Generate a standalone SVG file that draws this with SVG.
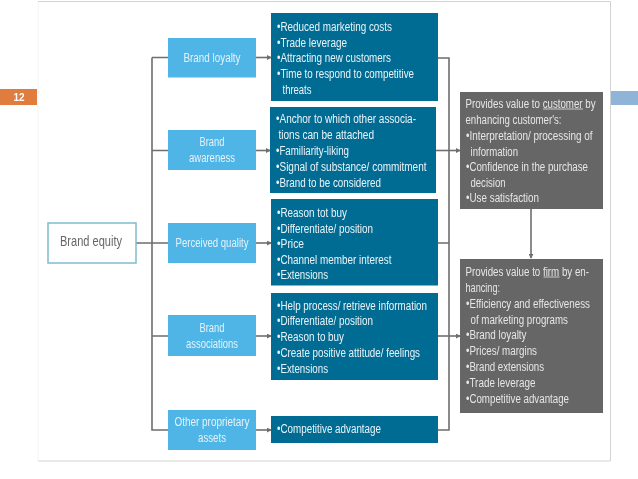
<svg xmlns="http://www.w3.org/2000/svg" width="638" height="479" viewBox="0 0 638 479">
<style>
text{font-family:"Liberation Sans",Arial,sans-serif;font-size:12.5px;fill:#e8f4f8}
.g text{fill:#e6e6e6}
.l{fill:#4fb4e6}.d{fill:#056c94}.y{fill:#666}
.lt{text-anchor:middle;fill:#e4f3fa;font-size:12.5px}
.c{fill:none;stroke:#6e6e6e;stroke-width:1.6}
.u{fill:none;stroke:#e6e6e6;stroke-width:.8}
</style>
<defs>
<marker id="a" viewBox="0 0 6 6" refX="5" refY="3" markerWidth="5" markerHeight="5" markerUnits="userSpaceOnUse" orient="auto"><path d="M0 0L6 3L0 6Z" fill="#6e6e6e"/></marker>
<filter id="b" x="-2%" y="-2%" width="104%" height="104%"><feGaussianBlur stdDeviation="0.35"/></filter>
</defs>
<rect width="638" height="479" fill="#fff"/>
<g filter="url(#b)">
<g id="slide-frame"><path d="M38 1.500H610.500V461H38" fill="none" stroke="#cfd3d6" stroke-width="1"/><path d="M38 1.500V461" fill="none" stroke="#f1f4f6" stroke-width="1"/></g>
<g id="page-number"><rect x="0" y="89" width="37" height="16" fill="#e07b3c"/><text x="19" y="101" text-anchor="middle" style="fill:#fff;font-size:10px;font-weight:bold">12</text></g>
<g id="side-accent"><rect x="611" y="91" width="27" height="14" fill="#8fb4d8"/></g>
<g id="connectors">
<path class="c" d="M136 243H168M152 57.500V430H168M152 57.500H168M152 150.500H168M152 336H168"/>
<path class="c" d="M256 57.500H271" marker-end="url(#a)"/>
<path class="c" d="M256 150.500H270" marker-end="url(#a)"/>
<path class="c" d="M256 243H271" marker-end="url(#a)"/>
<path class="c" d="M256 336H271" marker-end="url(#a)"/>
<path class="c" d="M256 430H271" marker-end="url(#a)"/>
<path class="c" d="M438 58H449V430H438M438 243H449"/>
<path class="c" d="M436 150.500H460" marker-end="url(#a)"/>
<path class="c" d="M438 336H460" marker-end="url(#a)"/>
<path class="c" d="M531 209V258" marker-end="url(#a)"/>
</g>
<g id="brand-equity"><rect x="48" y="223" width="88" height="40" fill="#fff" stroke="#7fbcd0" stroke-width="1.500"/><text x="91" y="246" text-anchor="middle" textLength="62" lengthAdjust="spacingAndGlyphs" style="fill:#666;font-size:14px">Brand equity</text></g>
<g id="brand-loyalty"><rect class="l" x="168" y="38" width="88" height="39.500"/><text class="lt" x="212" y="62" textLength="57" lengthAdjust="spacingAndGlyphs">Brand loyalty</text></g>
<g id="brand-awareness"><rect class="l" x="168" y="130" width="88" height="40"/><text class="lt" x="212" y="146" textLength="25" lengthAdjust="spacingAndGlyphs">Brand</text><text class="lt" x="212" y="162" textLength="46" lengthAdjust="spacingAndGlyphs">awareness</text></g>
<g id="perceived-quality"><rect class="l" x="168" y="223" width="88" height="40"/><text class="lt" x="212" y="247" textLength="73" lengthAdjust="spacingAndGlyphs">Perceived quality</text></g>
<g id="brand-associations"><rect class="l" x="168" y="315" width="88" height="41"/><text class="lt" x="212" y="332" textLength="25" lengthAdjust="spacingAndGlyphs">Brand</text><text class="lt" x="212" y="347.500" textLength="52" lengthAdjust="spacingAndGlyphs">associations</text></g>
<g id="other-proprietary-assets"><rect class="l" x="168" y="410" width="88" height="40"/><text class="lt" x="212" y="426" textLength="75" lengthAdjust="spacingAndGlyphs">Other proprietary</text><text class="lt" x="212" y="442" textLength="28" lengthAdjust="spacingAndGlyphs">assets</text></g>
<g id="loyalty-list"><rect class="d" x="271" y="13" width="167" height="88"/>
<text x="277" y="30.500" textLength="115" lengthAdjust="spacingAndGlyphs">•Reduced marketing costs</text>
<text x="277" y="46.500" textLength="70" lengthAdjust="spacingAndGlyphs">•Trade leverage</text>
<text x="277" y="62" textLength="114" lengthAdjust="spacingAndGlyphs">•Attracting new customers</text>
<text x="277" y="77.500" textLength="137" lengthAdjust="spacingAndGlyphs">•Time to respond to competitive</text>
<text x="282.500" y="93.500" textLength="29" lengthAdjust="spacingAndGlyphs">threats</text></g>
<g id="awareness-list"><rect class="d" x="270" y="107" width="166" height="86"/>
<text x="276" y="122.500" textLength="140" lengthAdjust="spacingAndGlyphs">•Anchor to which other associa-</text>
<text x="278.500" y="138.500" textLength="95.500" lengthAdjust="spacingAndGlyphs">tions can be attached</text>
<text x="276" y="155" textLength="73" lengthAdjust="spacingAndGlyphs">•Familiarity-liking</text>
<text x="276" y="170.500" textLength="150.500" lengthAdjust="spacingAndGlyphs">•Signal of substance/ commitment</text>
<text x="276" y="186.500" textLength="105" lengthAdjust="spacingAndGlyphs">•Brand to be considered</text></g>
<g id="quality-list"><rect class="d" x="271" y="199" width="167" height="86.500"/>
<text x="277" y="216.500" textLength="70" lengthAdjust="spacingAndGlyphs">•Reason tot buy</text>
<text x="277" y="232.500" textLength="96" lengthAdjust="spacingAndGlyphs">•Differentiate/ position</text>
<text x="277" y="247.500" textLength="27" lengthAdjust="spacingAndGlyphs">•Price</text>
<text x="277" y="263.500" textLength="114.500" lengthAdjust="spacingAndGlyphs">•Channel member interest</text>
<text x="277" y="278.500" textLength="51" lengthAdjust="spacingAndGlyphs">•Extensions</text></g>
<g id="associations-list"><rect class="d" x="271" y="293" width="167" height="87"/>
<text x="277" y="309.500" textLength="150" lengthAdjust="spacingAndGlyphs">•Help process/ retrieve information</text>
<text x="277" y="324.500" textLength="96" lengthAdjust="spacingAndGlyphs">•Differentiate/ position</text>
<text x="277" y="340.500" textLength="67" lengthAdjust="spacingAndGlyphs">•Reason to buy</text>
<text x="277" y="356.500" textLength="143" lengthAdjust="spacingAndGlyphs">•Create positive attitude/ feelings</text>
<text x="277" y="372.500" textLength="51" lengthAdjust="spacingAndGlyphs">•Extensions</text></g>
<g id="assets-list"><rect class="d" x="271" y="416" width="167" height="27"/>
<text x="277" y="432.500" textLength="104" lengthAdjust="spacingAndGlyphs">•Competitive advantage</text></g>
<g id="customer-value" class="g"><rect class="y" x="460" y="92" width="143" height="117"/>
<text x="465.500" y="107.500" textLength="130" lengthAdjust="spacingAndGlyphs">Provides value to customer by</text>
<path class="u" d="M543 109H583"/>
<text x="465.500" y="123.500" textLength="96" lengthAdjust="spacingAndGlyphs">enhancing customer's:</text>
<text x="466" y="139.500" textLength="126.500" lengthAdjust="spacingAndGlyphs">•Interpretation/ processing of</text>
<text x="470.500" y="155.500" textLength="47.500" lengthAdjust="spacingAndGlyphs">information</text>
<text x="466" y="170.500" textLength="122" lengthAdjust="spacingAndGlyphs">•Confidence in the purchase</text>
<text x="470.500" y="186.500" textLength="35" lengthAdjust="spacingAndGlyphs">decision</text>
<text x="466" y="201.500" textLength="73" lengthAdjust="spacingAndGlyphs">•Use satisfaction</text></g>
<g id="firm-value" class="g"><rect class="y" x="460" y="259" width="143" height="154"/>
<text x="465.500" y="275.500" textLength="123.500" lengthAdjust="spacingAndGlyphs">Provides value to firm by en-</text>
<path class="u" d="M543.500 277H559.500"/>
<text x="465.500" y="291.500" textLength="34.500" lengthAdjust="spacingAndGlyphs">hancing:</text>
<text x="466" y="307.500" textLength="124" lengthAdjust="spacingAndGlyphs">•Efficiency and effectiveness</text>
<text x="470.500" y="323.500" textLength="97.500" lengthAdjust="spacingAndGlyphs">of marketing programs</text>
<text x="466" y="338.500" textLength="60.500" lengthAdjust="spacingAndGlyphs">•Brand loyalty</text>
<text x="466" y="354.500" textLength="71" lengthAdjust="spacingAndGlyphs">•Prices/ margins</text>
<text x="466" y="370.500" textLength="78" lengthAdjust="spacingAndGlyphs">•Brand extensions</text>
<text x="466" y="386.500" textLength="69.500" lengthAdjust="spacingAndGlyphs">•Trade leverage</text>
<text x="466" y="402.500" textLength="103" lengthAdjust="spacingAndGlyphs">•Competitive advantage</text></g>
</g>
</svg>
